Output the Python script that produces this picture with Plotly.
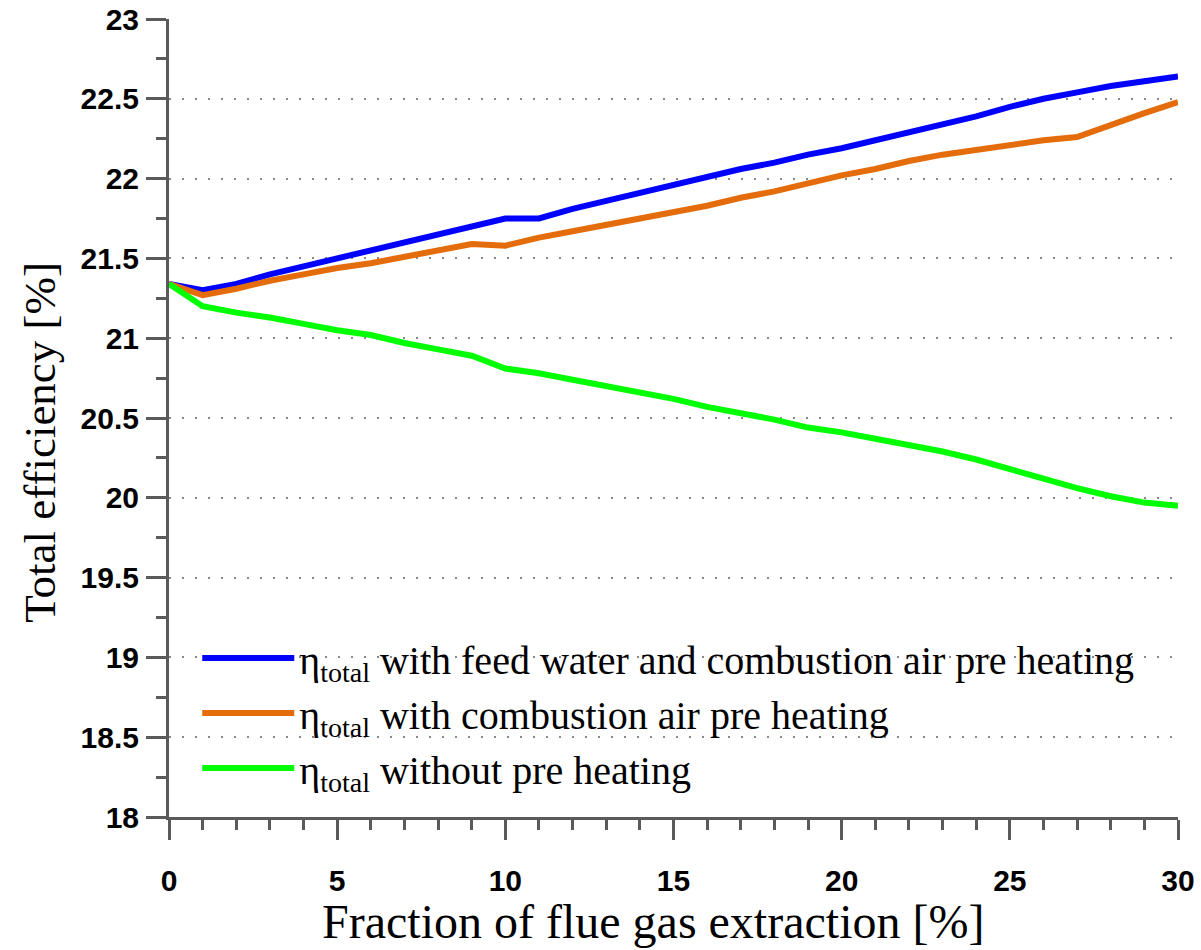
import plotly.graph_objects as go

x_vals = list(range(0, 31))

eta_feed_air = [21.34, 21.30, 21.34, 21.40, 21.45, 21.50, 21.55, 21.60, 21.65, 21.70,
                21.75, 21.75, 21.81, 21.86, 21.91, 21.96, 22.01, 22.06, 22.10, 22.15,
                22.19, 22.24, 22.29, 22.34, 22.39, 22.45, 22.50, 22.54, 22.58, 22.61, 22.64]

eta_air = [21.34, 21.27, 21.31, 21.36, 21.40, 21.44, 21.47, 21.51, 21.55, 21.59,
           21.58, 21.63, 21.67, 21.71, 21.75, 21.79, 21.83, 21.88, 21.92, 21.97,
           22.02, 22.06, 22.11, 22.15, 22.18, 22.21, 22.24, 22.26, 22.34, 22.41, 22.48]

eta_none = [21.34, 21.20, 21.16, 21.13, 21.09, 21.05, 21.02, 20.97, 20.93, 20.89,
            20.81, 20.78, 20.74, 20.70, 20.66, 20.62, 20.57, 20.53, 20.49, 20.44,
            20.41, 20.37, 20.33, 20.29, 20.24, 20.18, 20.12, 20.06, 20.01, 19.97, 19.95]

series_names = [
    "η<sub>total</sub> with feed water and combustion air pre heating",
    "η<sub>total</sub> with combustion air pre heating",
    "η<sub>total</sub> without pre heating",
]
series_colors = ["#0000FF", "#E46C0A", "#00FF00"]

x_title = "Fraction of flue gas extraction [%]"
y_title = "Total efficiency [%]"

fig = go.Figure()
for ys, name, col in zip([eta_feed_air, eta_air, eta_none], series_names, series_colors):
    fig.add_trace(go.Scatter(x=x_vals, y=ys, mode="lines", name=name,
                             line=dict(color=col, width=6)))

axis_col = "#5a5a5a"
tick_font = dict(family="Liberation Sans", size=30, color="black", weight="bold")

fig.update_layout(
    width=1201, height=950,
    margin=dict(l=169, r=23, t=19, b=133),
    paper_bgcolor="white", plot_bgcolor="white",
    showlegend=True,
    legend=dict(x=0.028, y=0.24, xanchor="left", yanchor="top",
                font=dict(family="Liberation Serif", size=40, color="black"),
                bgcolor="rgba(0,0,0,0)", itemwidth=92, tracegroupgap=0),
    xaxis=dict(range=[0, 30], dtick=5, tick0=0, showgrid=False, zeroline=False,
               automargin=False,
               showline=True, linecolor=axis_col, linewidth=3,
               ticks="outside", ticklen=20, tickwidth=3, tickcolor=axis_col,
               tickfont=tick_font, ticklabelstandoff=15,
               minor=dict(dtick=1, ticks="outside", ticklen=10, tickwidth=3, tickcolor=axis_col, showgrid=False)),
    yaxis=dict(range=[18, 23], dtick=0.5, tick0=18, showgrid=True, gridcolor="#888888",
               gridwidth=2, griddash="2px,11px", zeroline=False,
               automargin=False,
               showline=True, linecolor=axis_col, linewidth=3,
               ticks="outside", ticklen=20, tickwidth=3, tickcolor=axis_col,
               tickfont=tick_font, ticklabelstandoff=1,
               minor=dict(dtick=0.25, ticks="outside", ticklen=10, tickwidth=3, tickcolor=axis_col, showgrid=False)),
    annotations=[
        dict(text=x_title, xref="paper", yref="paper", x=0.48, y=-0.131,
             xanchor="center", yanchor="middle", showarrow=False,
             font=dict(family="Liberation Serif", size=48, color="black")),
        dict(text=y_title, xref="paper", yref="paper", x=-0.128, y=0.47,
             xanchor="center", yanchor="middle", showarrow=False, textangle=-90,
             font=dict(family="Liberation Serif", size=45, color="black")),
    ],
)

fig.write_html("out.html")
